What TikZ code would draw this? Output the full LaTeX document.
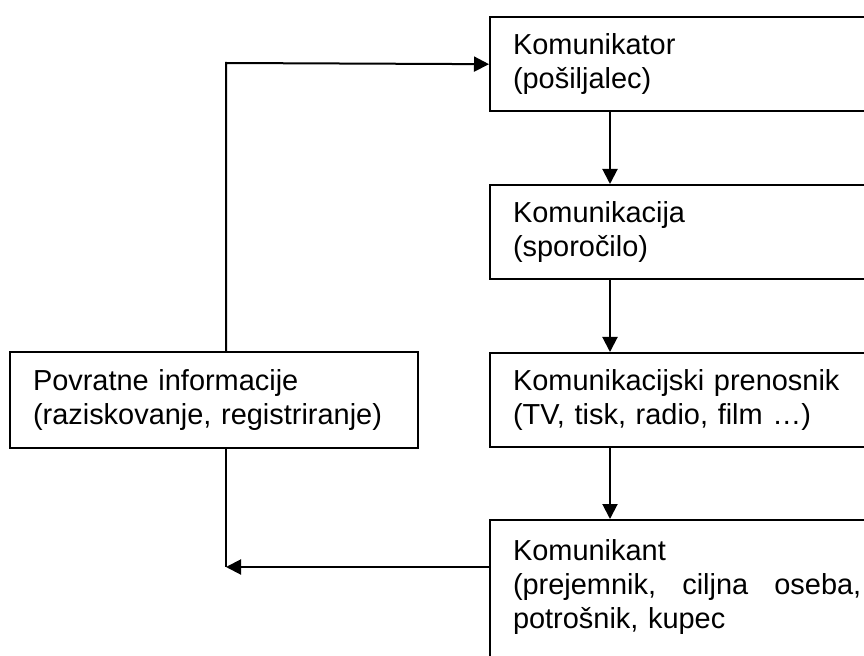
\documentclass[tikz,border=0pt]{standalone}
\usepackage{fontspec}
\setmainfont{Liberation Sans}
\usetikzlibrary{arrows.meta}

\tikzset{
	blok/.style={draw, line width=0.06cm, rectangle, anchor=north west,
		inner xsep=0.69cm, align=left, font=\fontsize{24.7pt}{29pt}\selectfont},
	desni/.style={blok, text width=10.5cm, minimum height=2.83cm},
	>={Triangle[length=0.45cm,width=0.45cm]}
}

\begin{document}
\begin{tikzpicture}[x=0.03cm, y=-0.03cm, line width=0.06cm]
	\useasboundingbox (0,0) rectangle (864,656);
	\clip (0,0) rectangle (864,656);
	\node [desni] (KOR) at (489,16) {Komunikator\\(pošiljalec)};
	\node [desni] (KAC) at (489,184) {Komunikacija\\(sporočilo)};
	\node [desni] (PRE) at (489,352) {Komunikacijski prenosnik\\(TV, tisk, radio, film …)};
	\node [desni, minimum height=4.87cm] (KNT) at (489,519) {Komunikant\\
		\makebox[10.45cm][l]{(prejemnik,\hfill ciljna\hfill oseba,}\\potrošnik, kupec\\ \mbox{}};
	\node [blok, text width=10.86cm, minimum height=2.88cm] (POV) at (9,351)
		{Povratne informacije\\(raziskovanje, registriranje)\par\vspace{0.55cm}};
	\coordinate (SR) at (610,0);
	\coordinate (ZG) at (226,63);
	\coordinate (SP) at (226,567);
	\draw [->] (KOR.south -| SR) -- (KAC.north -| SR);
	\draw [->] (KAC.south -| SR) -- (PRE.north -| SR);
	\draw [->] (PRE.south -| SR) -- (KNT.north -| SR);
	\draw [->] (POV.north -| ZG) -- (ZG) -- (KOR.west);
	\draw (POV.south -| SP) -- (SP);
	\draw [->] (KNT.west |- SP) -- (SP);
\end{tikzpicture}
\end{document}
